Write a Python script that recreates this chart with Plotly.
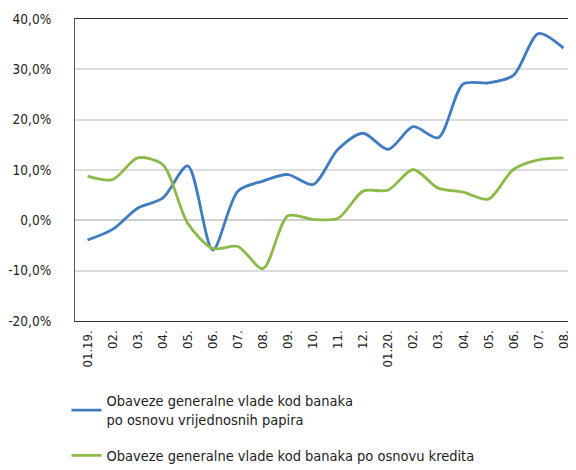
import plotly.graph_objects as go

categories = ["01.19.", "02.", "03.", "04.", "05.", "06.", "07.", "08.", "09.", "10.",
              "11.", "12.", "01.20.", "02.", "03.", "04.", "05.", "06.", "07.", "08."]
cat_ids = list(range(len(categories)))

vrijednosni_papiri = [-3.9, -1.8, 2.4, 4.4, 10.8, -5.9, 5.8, 7.8, 9.1, 7.1,
                      14.1, 17.3, 14.1, 18.6, 16.4, 27.1, 27.3, 28.8, 37.1, 34.2]
krediti = [8.8, 8.1, 12.4, 11.1, -0.6, -5.6, -5.2, -9.6, 0.9, 0.2,
           0.4, 5.8, 6.0, 10.1, 6.4, 5.6, 4.2, 10.1, 12.0, 12.4]

name1 = "Obaveze generalne vlade kod banaka<br>po osnovu vrijednosnih papira"
name2 = "Obaveze generalne vlade kod banaka po osnovu kredita"

y_ticks = [-20, -10, 0, 10, 20, 30, 40]
y_ticktext = ["-20,0%", "-10,0%", "0,0%", "10,0%", "20,0%", "30,0%", "40,0%"]

font_family = "DejaVu Sans Condensed, Liberation Sans Narrow, Roboto, sans-serif"

fig = go.Figure()
fig.add_trace(go.Scatter(x=cat_ids, y=vrijednosni_papiri, mode="lines", name=name1,
                         legendgroup="a",
                         line=dict(color="#3f7bc0", width=2.8, shape="spline", smoothing=0.8)))
fig.add_trace(go.Scatter(x=cat_ids, y=krediti, mode="lines", name=name2,
                         legendgroup="b",
                         line=dict(color="#8cba48", width=2.8, shape="spline", smoothing=0.8)))

# page body has an 8px default margin, so the figure is sized to fit inside it
fig.update_layout(
    width=568, height=462,
    margin=dict(l=67, r=0, t=11, b=149, autoexpand=False),
    paper_bgcolor="white", plot_bgcolor="white",
    font=dict(family=font_family, size=13, color="#222222"),
    showlegend=True,
    legend=dict(x=-0.017, y=-0.211, xanchor="left", yanchor="top",
                orientation="v", traceorder="grouped", tracegroupgap=14,
                maxheight=200,
                font=dict(size=14.5, color="#222222"), itemwidth=30),
    xaxis=dict(range=[-0.5, 19.5], tickmode="array", tickvals=cat_ids, ticktext=categories,
               tickangle=-90, showgrid=False, zeroline=False, automargin=False,
               showline=True, linecolor="#333333", linewidth=1.2, mirror=True,
               ticks="outside", ticklen=3, tickcolor="rgba(0,0,0,0)", tickfont=dict(size=13)),
    yaxis=dict(range=[-20, 40], tickmode="array", tickvals=y_ticks, ticktext=y_ticktext,
               showgrid=True, gridcolor="#dcdcdc", gridwidth=1.5, automargin=False,
               zeroline=True, zerolinecolor="#d0d0d0", zerolinewidth=1.8,
               showline=True, linecolor="#555555", linewidth=1.2,
               ticks="outside", ticklen=20, tickcolor="rgba(0,0,0,0)", tickfont=dict(size=13.5)),
)

fig.write_html("out.html")
